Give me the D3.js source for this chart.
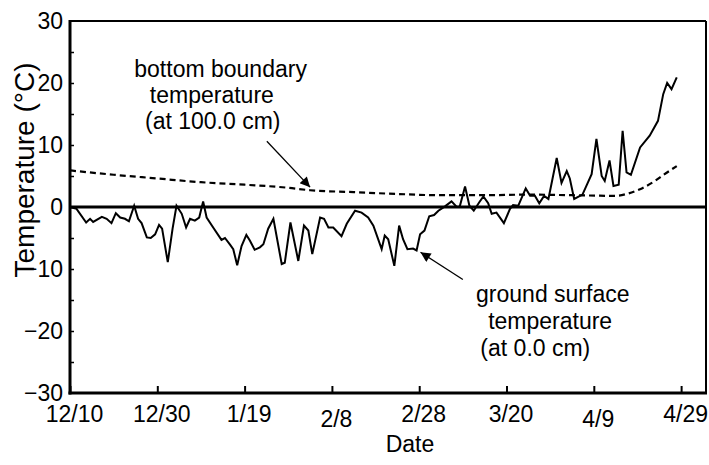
<!DOCTYPE html>
<html lang="en">
<head>
	<meta charset="utf-8">
	<title>Ground surface and bottom boundary temperature</title>
	<script src="https://cdn.jsdelivr.net/npm/d3@7"></script>
	<style>
		html, body { margin: 0; padding: 0; background: #fff; overflow: hidden; }
		svg { display: block; font-family: "Liberation Sans", Arial, sans-serif; }
	</style>
</head>
<body>
	<div id="chart"></div>
	<script>
		// Data: days after 12/10, temperature in degrees C
		const surfaceDay = [0, 1.5, 3.7, 4.6, 5.3, 7.3, 8.4, 9.5, 10.5, 11.5, 12.6, 13.5, 14.7, 15.6, 16.4, 17.6, 18.5, 19.5,
			20.4, 21.1, 22.4, 23.5, 24.4, 25.6, 26.6, 27.5, 28.6, 29.6, 30.5, 31.3, 32.8, 34.7, 35.5, 36.7, 37.4, 38.3,
			39.3, 40.4, 41.2, 42.3, 43.5, 44.3, 45.4, 46.6, 48.5, 49.2, 50.5, 52.3, 53.6, 54.6, 55.5, 57.3, 58.2, 59.2,
			60.3, 62.2, 63.4, 65.3, 66.8, 68.3, 69.5, 71.4, 72.1, 72.9, 74.3, 75.4, 76.3, 77.3, 78.6, 79.4, 80.2, 81.2,
			82.3, 83.4, 84.4, 85.9, 87.4, 88.6, 89.3, 90.5, 91.5, 92.5, 93.8, 94.7, 95.8, 96.6, 97.7, 99.4, 100.8, 101.5,
			102.7, 104.4, 105.4, 106.5, 107.5, 108.6, 109.6, 111.5, 112.6, 113.8, 114.5, 115.5, 117.4, 119.5, 120.6,
			121.8, 122.5, 123.6, 124.5, 125.7, 126.6, 127.5, 128.5, 130.6, 132.8, 134.7, 135.9, 136.8, 137.8, 139.0];
		const surfaceTemp = [0, -0.3, -2.5, -1.9, -2.4, -1.6, -1.9, -2.6, -1.0, -1.7, -1.9, -2.3, 0.2, -1.9, -2.6, -4.9, -5.0, -4.4,
			-2.9, -3.5, -8.9, -3.5, 0.2, -1.1, -3.3, -1.9, -2.2, -1.7, 0.9, -1.7, -3.3, -5.3, -5.0, -6.1, -6.8, -9.4,
			-6.3, -4.5, -5.4, -6.9, -6.5, -6.0, -3.5, -1.9, -9.2, -9.0, -2.5, -8.7, -3.0, -3.8, -7.6, -1.7, -1.9, -3.3,
			-3.3, -4.7, -2.7, -0.6, -0.9, -1.7, -3.0, -6.8, -4.6, -5.2, -9.5, -3.0, -5.2, -6.8, -6.7, -7.0, -4.4, -3.8,
			-1.5, -1.3, -0.6, 0.1, 0.9, 0.0, 0.1, 3.3, 0.2, -0.6, 0.8, 1.7, 0.6, -1.1, -0.9, -2.6, -0.3, 0.3,
			0.2, 3.0, 1.8, 1.8, 0.6, 1.8, 1.3, 7.9, 3.9, 5.8, 4.6, 1.3, 2.0, 5.3, 11.0,
			5.0, 4.2, 7.5, 3.4, 3.6, 12.3, 5.6, 5.2, 9.6, 11.5, 13.9, 18.2, 20.0, 19.0, 20.9];

		const bottomDay = [0, 10, 20, 30, 40, 50, 55, 65, 75, 85, 95, 105, 115, 125, 128, 131, 134, 136, 139];
		const bottomTemp = [5.9, 5.2, 4.6, 4.0, 3.6, 3.1, 2.7, 2.4, 2.1, 1.9, 1.9, 2.0, 1.9, 1.8, 2.2, 3.0, 4.2, 5.2, 6.6];

		const xTickDays = [0, 20, 40, 60, 80, 100, 120, 140];
		const xTickLabels = ["12/10", "12/30", "1/19", "2/8", "2/28", "3/20", "4/9", "4/29"];
		const yTicks = [-30, -20, -10, 0, 10, 20, 30];

		const surface = surfaceDay.map((d, i) => ({ day: d, temp: surfaceTemp[i] }));
		const bottom = bottomDay.map((d, i) => ({ day: d, temp: bottomTemp[i] }));

		const font = "'Liberation Sans', Arial, sans-serif";

		// Create chart dimensions
		const width = 709;
		const height = 465;
		const margin = { top: 21, right: 3, bottom: 72, left: 70 };
		const innerWidth = width - margin.left - margin.right;
		const innerHeight = height - margin.top - margin.bottom;

		const svg = d3.select("#chart")
			.append("svg")
			.attr("width", width)
			.attr("height", height)
			.attr("viewBox", `0 0 ${width} ${height}`);

		const bounds = svg.append("g")
			.attr("transform", `translate(${margin.left},${margin.top})`);

		// Create scales
		const x = d3.scaleLinear()
			.domain([0, 145.7])
			.range([0, innerWidth]);

		const y = d3.scaleLinear()
			.domain([-30, 30])
			.range([innerHeight, 0]);

		// Arrow marker
		svg.append("defs").append("marker")
			.attr("id", "arrow")
			.attr("viewBox", "0 0 10 10")
			.attr("refX", 10)
			.attr("refY", 5)
			.attr("markerUnits", "userSpaceOnUse")
			.attr("markerWidth", 13)
			.attr("markerHeight", 10)
			.attr("orient", "auto")
			.append("path")
			.attr("d", "M0,0L10,5L0,10Z")
			.attr("fill", "black");

		// Draw data
		const line = d3.line()
			.x(d => x(d.day))
			.y(d => y(d.temp));

		bounds.append("path")
			.datum(bottom)
			.attr("d", line.curve(d3.curveMonotoneX))
			.attr("fill", "none")
			.attr("stroke", "black")
			.attr("stroke-width", 2.2)
			.attr("stroke-dasharray", "6,4");

		bounds.append("path")
			.datum(surface)
			.attr("d", line.curve(d3.curveLinear))
			.attr("fill", "none")
			.attr("stroke", "black")
			.attr("stroke-width", 2)
			.attr("stroke-linejoin", "miter");

		// Zero line
		bounds.append("line")
			.attr("x1", 0)
			.attr("x2", innerWidth)
			.attr("y1", y(0))
			.attr("y2", y(0))
			.attr("stroke", "black")
			.attr("stroke-width", 3);

		// Draw peripherals
		const xAxis = bounds.append("g")
			.attr("transform", `translate(0,${innerHeight})`)
			.call(d3.axisBottom(x)
				.tickValues(xTickDays)
				.tickFormat((d, i) => xTickLabels[i])
				.tickSizeInner(-7)
				.tickSizeOuter(0)
				.tickPadding(13))
			.attr("font-family", font)
			.attr("font-size", 23);

		xAxis.select(".domain").remove();
		xAxis.selectAll(".tick line").attr("stroke-width", 2);
		xAxis.selectAll(".tick text")
			.attr("x", 4)
			.attr("dy", d => xTickLabels[xTickDays.indexOf(d)].length === 3 ? "0.9em" : "0.71em")
			.attr("fill", "black");

		const yAxis = bounds.append("g")
			.call(d3.axisLeft(y)
				.tickValues(yTicks)
				.tickSize(0)
				.tickPadding(7))
			.attr("font-family", font)
			.attr("font-size", 23);

		yAxis.select(".domain").remove();
		yAxis.selectAll(".tick text").attr("fill", "black");

		// minor ticks every 5 degrees, inside the left axis
		bounds.append("g")
			.call(d3.axisRight(y)
				.tickValues(d3.range(-25, 30, 5))
				.tickSize(4))
			.call(g => g.select(".domain").remove())
			.call(g => g.selectAll(".tick text").remove())
			.selectAll(".tick line").attr("stroke-width", 1.5);

		// Frame
		bounds.append("line")
			.attr("x1", 0).attr("x2", innerWidth)
			.attr("y1", 0).attr("y2", 0)
			.attr("stroke", "black").attr("stroke-width", 2);
		bounds.append("line")
			.attr("x1", innerWidth).attr("x2", innerWidth)
			.attr("y1", 0).attr("y2", innerHeight)
			.attr("stroke", "black").attr("stroke-width", 2);
		bounds.append("line")
			.attr("x1", 0).attr("x2", 0)
			.attr("y1", -1).attr("y2", innerHeight + 1.5)
			.attr("stroke", "black").attr("stroke-width", 3);
		bounds.append("line")
			.attr("x1", -1.5).attr("x2", innerWidth + 1)
			.attr("y1", innerHeight).attr("y2", innerHeight)
			.attr("stroke", "black").attr("stroke-width", 3);

		// Axis titles
		svg.append("text")
			.attr("x", 410)
			.attr("y", 452)
			.attr("text-anchor", "middle")
			.style("font-size", "23px")
			.text("Date");

		svg.append("text")
			.attr("transform", `translate(34,170) rotate(-90)`)
			.attr("text-anchor", "middle")
			.style("font-size", "28px")
			.text("Temperature (°C)");

		// Add labels
		const note = (lines, temps, anchorDays) => {
			const g = bounds.append("text")
				.attr("text-anchor", "middle")
				.style("font-size", "23px");
			lines.forEach((t, i) => {
				g.append("tspan")
					.attr("x", x(anchorDays[i]))
					.attr("y", y(temps[i]))
					.text(t);
			});
		};

		note(["bottom boundary", "temperature", "(at 100.0 cm)"], [21.0, 16.8, 12.6], [34.5, 32.5, 32.7]);
		note(["ground surface", "temperature", "(at 0.0 cm)"], [-15.3, -19.6, -24.0], [110.6, 110.0, 106.6]);

		const arrow = (fromDay, fromTemp, toDay, toTemp) => {
			bounds.append("line")
				.attr("x1", x(fromDay))
				.attr("y1", y(fromTemp))
				.attr("x2", x(toDay))
				.attr("y2", y(toTemp))
				.attr("stroke", "black")
				.attr("stroke-width", 1.3)
				.attr("marker-end", "url(#arrow)");
		};

		arrow(45.1, 10.6, 55.0, 3.2);
		arrow(90.0, -11.7, 80.3, -7.3);
	</script>
</body>
</html>
